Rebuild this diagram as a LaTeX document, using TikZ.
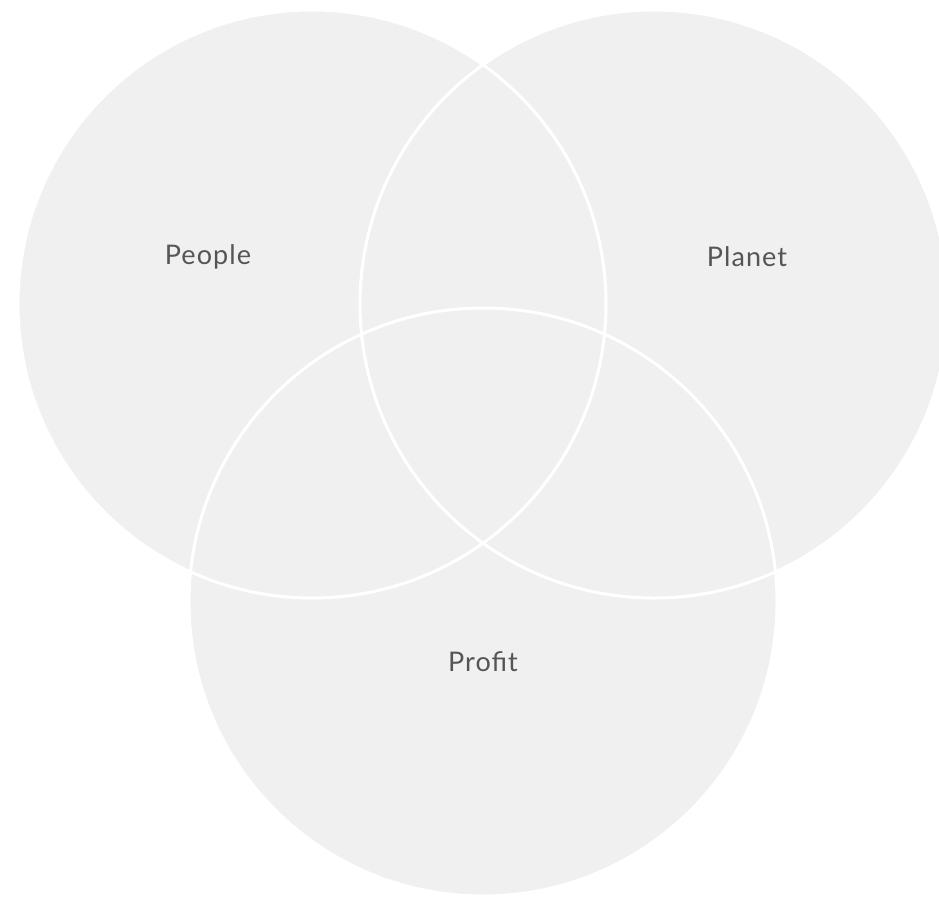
\documentclass[tikz,border=0pt]{standalone}
\usepackage{fontspec}
\setmainfont{Lato}
\newfontfamily\vfont[LetterSpace=4]{Lato}
\definecolor{vfill}{HTML}{F0F0F0}
\definecolor{vtext}{HTML}{555555}
\begin{document}
\begin{tikzpicture}[x=1pt,y=-1pt,
  vcirc/.style={fill=vfill},
  vedge/.style={draw=white,line width=3pt},
  vlabel/.style={text=vtext,font=\vfont\fontsize{27}{31}\selectfont}]
\useasboundingbox (0,0) rectangle (939,897);
\fill[white] (0,0) rectangle (939,897);
\begin{scope}
\clip (0,0) rectangle (939,897);
\coordinate (cpeople) at (312,304);
\coordinate (cplanet) at (654,304);
\coordinate (cprofit) at (483,602);
\fill[vcirc] (cpeople) circle (294);
\fill[vcirc] (cplanet) circle (294);
\fill[vcirc] (cprofit) circle (294);
\draw[vedge] (cpeople) circle (294);
\draw[vedge] (cplanet) circle (294);
\draw[vedge] (cprofit) circle (294);
\end{scope}
\node[vlabel] (people) at (208,257) {People};
\node[vlabel] (planet) at (747,257) {Planet};
\node[vlabel] (profit) at (483,662) {Profit};
\end{tikzpicture}
\end{document}
